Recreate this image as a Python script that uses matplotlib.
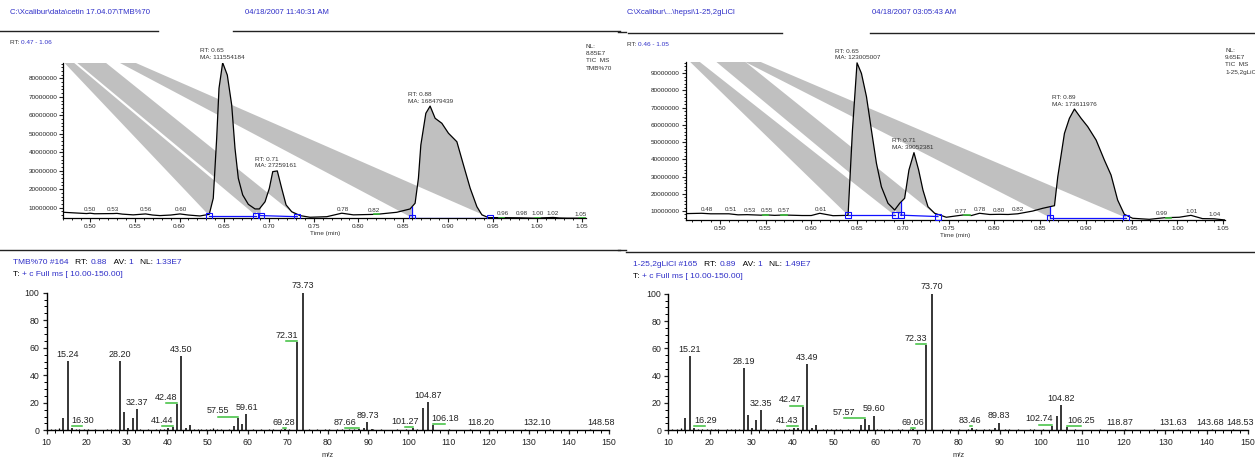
import numpy as np
import matplotlib
matplotlib.use('Agg')
import matplotlib.pyplot as plt
from matplotlib.patches import Polygon
from matplotlib.ticker import FixedLocator, MultipleLocator, FuncFormatter

plt.rcParams['font.family'] = ['Liberation Sans', 'DejaVu Sans']

# ------------------------------------------------------------------ data
# Chromatogram 1 (TMB%70) -- intensity in units of 1e7
chrom1_t = [0.470, 0.4736, 0.496, 0.500, 0.505, 0.5258, 0.530, 0.536, 0.5482, 0.562, 0.570,
            0.578, 0.590, 0.6004, 0.610, 0.6228, 0.6332, 0.6377, 0.6415, 0.6441, 0.6482,
            0.6534, 0.6583, 0.6620, 0.6657, 0.6706, 0.6769, 0.6844, 0.6892, 0.6956, 0.7004,
            0.7042, 0.7093, 0.7142, 0.7191, 0.7254, 0.7317, 0.7347, 0.7459, 0.7646, 0.7814,
            0.7944, 0.8206, 0.8429, 0.8578, 0.8634, 0.8671, 0.8698, 0.8754, 0.8802, 0.8858,
            0.8933, 0.9007, 0.9101, 0.9175, 0.9250, 0.9325, 0.9381, 0.9455, 0.9586, 0.980,
            0.9955, 1.0179, 1.025, 1.0332, 1.0545]
chrom1_i = [0.75, 0.74, 0.68, 0.70, 0.67, 0.68, 0.69, 0.65, 0.61, 0.66, 0.60,
            0.57, 0.60, 0.66, 0.60, 0.55, 0.64, 1.51, 4.75, 7.46, 8.85,
            8.18, 6.56, 4.21, 2.59, 1.69, 1.18, 0.93, 0.93, 1.32, 2.05,
            2.95, 2.99, 2.05, 1.15, 0.78, 0.64, 0.57, 0.48, 0.51, 0.70,
            0.61, 0.64, 0.75, 0.93, 1.24, 2.59, 4.39, 6.11, 6.50, 5.84,
            5.57, 5.03, 4.57, 3.31, 2.05, 1.05, 0.61, 0.46, 0.46, 0.45,
            0.43, 0.47, 0.44, 0.43, 0.43]
chrom1_peak_rt = ['0.65', '0.71', '0.88']
chrom1_peak_ma = ['111554184', '27259161', '168479439']
chrom1_marker_t = [0.6332, 0.6855, 0.6907, 0.7317, 0.8597, 0.9466]
chrom1_marker_i = [0.57, 0.57, 0.57, 0.51, 0.46, 0.46]
chrom1_small = ['0.50', '0.53', '0.56', '0.60', '0.78', '0.82', '0.96', '0.98', '1.00', '1.02', '1.05']
chrom1_green = [0.82, 0.96, 1.00, 1.05]

# Chromatogram 2 (1-25,2gLiCl)
chrom2_t = [0.462, 0.480, 0.490, 0.510, 0.520, 0.530, 0.545, 0.550, 0.560, 0.570, 0.590,
            0.600, 0.6093, 0.6238, 0.6402, 0.645, 0.650, 0.6548, 0.6603, 0.6657, 0.6712,
            0.6766, 0.6838, 0.6911, 0.6966, 0.702, 0.7067, 0.7122, 0.7173, 0.722, 0.7275,
            0.7348, 0.7475, 0.7656, 0.775, 0.7838, 0.795, 0.8057, 0.815, 0.8256, 0.842,
            0.8529, 0.8657, 0.8693, 0.8766, 0.882, 0.8875, 0.8948, 0.902, 0.9112, 0.9202,
            0.9275, 0.9347, 0.942, 0.9511, 0.9693, 0.9857, 1.002, 1.0148, 1.0274, 1.040, 1.052]
chrom2_i = [0.85, 0.87, 0.84, 0.84, 0.78, 0.79, 0.76, 0.78, 0.75, 0.77, 0.74,
            0.74, 0.87, 0.73, 0.75, 5.70, 9.60, 8.99, 7.64, 5.70, 3.77,
            2.41, 1.45, 1.06, 1.45, 1.74, 3.38, 4.39, 3.38, 2.22, 1.25,
            0.87, 0.64, 0.77, 0.74, 0.87, 0.80, 0.81, 0.80, 0.84, 1.00,
            1.16, 1.31, 2.99, 5.51, 6.38, 6.92, 6.38, 5.90, 5.12, 3.96,
            3.09, 1.64, 0.81, 0.58, 0.52, 0.61, 0.64, 0.75, 0.56, 0.55, 0.48]
chrom2_peak_rt = ['0.65', '0.71', '0.89']
chrom2_peak_ma = ['123005007', '39052381', '173611976']
chrom2_marker_t = [0.6402, 0.6911, 0.6977, 0.7384, 0.8613, 0.9439]
chrom2_marker_i = [0.75, 0.75, 0.76, 0.68, 0.61, 0.61]
chrom2_small = ['0.48', '0.51', '0.53', '0.55', '0.57', '0.61', '0.77', '0.78', '0.80', '0.82',
                '0.99', '1.01', '1.04']
chrom2_green = [0.55, 0.57, 0.77, 0.99]

# Mass spectrum 1 (TMB%70 #164)
spec1_mz = [14.0, 15.24, 16.30, 28.20, 29.3, 30.3, 31.4, 32.37, 40.3, 41.44, 42.48, 43.50,
            44.6, 45.6, 56.6, 57.55, 58.6, 59.61, 69.28, 72.31, 73.73, 87.66, 88.9, 89.73,
            90.9, 101.27, 103.7, 104.87, 106.18, 118.20, 132.10, 148.58]
spec1_int = [9.2, 50.4, 2.0, 50.4, 13.0, 2.0, 8.7, 15.3, 2.0, 2.5, 19.0, 54.0,
             2.0, 4.0, 3.0, 9.2, 4.6, 11.6, 1.0, 64.0, 100.0, 1.0, 2.0, 5.8,
             1.0, 1.5, 16.5, 20.5, 3.8, 0.5, 0.5, 0.5]
spec1_noise_mz = [11.0, 12.0, 13.1, 17.2, 18.1, 19.2, 20.2, 21.1, 22.1, 23.2, 25.1, 26.1, 27.1,
                  33.2, 34.2, 35.1, 36.2, 37.1, 38.2, 39.1, 46.6, 47.6, 48.5, 49.6, 50.6, 51.3,
                  52.4, 53.5, 54.4, 55.4, 61.3, 62.4, 63.4, 64.3, 65.4, 66.3, 67.3, 68.3, 70.3,
                  71.3, 75.2, 77.2, 78.4, 79.3, 80.4, 81.3, 82.3, 83.4, 84.3, 85.3, 86.4, 91.3,
                  92.3, 93.3, 95.4, 97.3, 99.4, 102.3, 107.3, 110.2, 112.3, 115.3, 117.3, 121.2,
                  127.2, 129.2, 133.3, 135.2, 144.2, 145.3, 146.3]
spec1_noise_i = [0.8, 1.0, 1.5, 0.8, 0.7, 0.6, 0.8, 0.5, 0.7, 0.5, 0.6, 0.9, 0.7,
                 0.6, 0.5, 0.7, 0.5, 0.6, 0.8, 0.6, 0.8, 0.6, 0.7, 0.9, 1.2, 1.5,
                 0.6, 0.7, 0.5, 0.6, 0.7, 0.5, 0.6, 0.5, 0.8, 0.6, 0.5, 0.7, 0.6,
                 0.5, 0.6, 0.7, 0.5, 0.6, 0.8, 0.5, 0.7, 0.6, 0.5, 0.6, 0.7, 0.6,
                 0.5, 0.7, 0.5, 0.6, 0.8, 0.6, 0.5, 0.6, 0.5, 0.6, 0.5, 0.6,
                 0.5, 0.6, 0.5, 0.6, 0.5, 0.6, 0.5]
spec1_labels = ['15.24', '16.30', '28.20', '32.37', '41.44', '42.48', '43.50', '57.55', '59.61',
                '69.28', '72.31', '73.73', '87.66', '89.73', '101.27', '104.87', '106.18',
                '118.20', '132.10', '148.58']

# Mass spectrum 2 (1-25,2gLiCl #165)
spec2_mz = [14.0, 15.21, 16.29, 28.19, 29.3, 30.2, 31.3, 32.35, 40.4, 41.43, 42.47, 43.49,
            44.6, 45.6, 56.5, 57.57, 58.5, 59.60, 69.06, 72.33, 73.70, 83.46, 88.9, 89.83,
            102.74, 103.9, 104.82, 106.25, 118.87, 131.63, 143.68, 148.53]
spec2_int = [9.0, 54.4, 2.0, 45.4, 11.5, 2.0, 7.6, 14.6, 2.0, 2.0, 17.3, 48.5,
             1.5, 3.6, 3.6, 8.3, 4.0, 10.7, 1.0, 62.4, 100.0, 2.0, 2.0, 5.6,
             3.4, 10.7, 18.5, 2.6, 0.5, 0.5, 0.5, 0.5]
spec2_noise_mz = [11.0, 12.1, 13.1, 17.2, 18.1, 19.3, 20.2, 21.2, 22.1, 23.3, 24.2, 25.2, 26.1,
                  27.1, 33.3, 34.2, 35.2, 36.3, 37.2, 38.2, 39.2, 47.3, 48.4, 49.4, 50.5, 51.4,
                  53.5, 54.5, 60.4, 61.4, 62.5, 63.4, 64.3, 65.4, 66.4, 67.4, 68.3, 76.3, 78.3,
                  79.4, 80.3, 81.4, 82.3, 84.4, 85.3, 86.3, 87.4, 91.3, 92.4, 93.3, 94.4, 96.3,
                  97.4, 98.3, 99.3, 100.4, 101.3, 108.3, 112.3, 114.3, 116.2, 120.3, 124.3,
                  127.3, 130.3, 133.2, 137.3, 141.3, 145.2, 146.3, 147.3]
spec2_noise_i = [0.8, 0.9, 1.6, 0.7, 0.7, 0.6, 0.8, 0.6, 0.7, 0.5, 0.6, 0.6, 0.8,
                 0.7, 0.6, 0.5, 0.6, 0.6, 0.5, 0.7, 0.6, 0.6, 0.8, 0.6, 0.7, 0.9,
                 0.6, 0.7, 0.6, 0.7, 0.5, 0.6, 0.5, 0.7, 0.6, 0.5, 0.8, 0.7, 0.6,
                 0.5, 0.6, 0.5, 0.7, 0.6, 0.5, 0.6, 0.8, 0.6, 0.7, 0.5, 0.6, 0.5,
                 0.6, 0.7, 0.5, 0.6, 0.5, 0.6, 0.5, 0.6, 0.5, 0.6, 0.5,
                 0.6, 0.5, 0.6, 0.5, 0.6, 0.5, 0.6, 0.5]
spec2_labels = ['15.21', '16.29', '28.19', '32.35', '41.43', '42.47', '43.49', '57.57', '59.60',
                '69.06', '72.33', '73.70', '83.46', '89.83', '102.74', '104.82', '106.25',
                '118.87', '131.63', '143.68', '148.53']

# ------------------------------------------------------------------ layout / style
W, H = 1255, 457
BLUE = '#2f2fc8'
GRAY = '#c0c0c0'
GREEN = '#3cbf3c'
MBLUE = '#1010ff'

# horizontal placement of the small retention-time labels (time units)
chrom1_small_x = [0.500, 0.5252, 0.562, 0.602, 0.7826, 0.8175, 0.961, 0.9826, 1.0004, 1.0175, 1.048]
chrom2_small_x = [0.486, 0.5117, 0.5325, 0.551, 0.570, 0.610, 0.7639, 0.7838, 0.8048, 0.8256,
                  0.9826, 1.0155, 1.0409]

# where each spectrum label sits (m/z of the label centre) and its green leader type
spec1_label_x = [15.24, 18.9, 28.2, 32.37, 38.6, 39.8, 43.5, 52.6, 59.8, 69.1, 69.7, 73.73,
                 84.2, 89.9, 99.2, 104.87, 109.2, 118.0, 132.0, 148.1]
spec1_label_green = [0, 1, 0, 0, 1, 1, 0, 1, 0, 2, 1, 0, 1, 0, 1, 0, 1, 0, 0, 0]
spec2_label_x = [15.21, 18.9, 28.19, 32.3, 38.6, 39.4, 43.49, 52.5, 59.6, 69.06, 69.7, 73.7,
                 82.9, 89.83, 99.6, 104.82, 109.7, 119.1, 131.9, 140.8, 148.1]
spec2_label_green = [0, 1, 0, 0, 1, 1, 0, 1, 0, 2, 1, 0, 1, 0, 1, 0, 1, 0, 0, 0, 0]

# off-axis start vertices of the filled peak paths (source of the grey streaks)
chrom1_apex = [(0.4292, 10.99), (-0.4315, 45.79), (0.4494, 10.99)]
chrom2_apex = [(0.4228, 11.97), (-0.3932, 48.94), (0.4424, 11.97)]

fig = plt.figure(figsize=(W / 100, H / 100), dpi=100)
fig.patch.set_facecolor('white')

bg = fig.add_axes([0, 0, 1, 1])
bg.set_xlim(0, W)
bg.set_ylim(H, 0)
bg.axis('off')


def px_axes(x0, y0, x1, y1):
    return fig.add_axes([x0 / W, 1 - y1 / H, (x1 - x0) / W, (y1 - y0) / H])


def chain_text(x, y, parts, size):
    t = bg.text(x, y, parts[0][0], color=parts[0][1], fontsize=size, ha='left', va='center')
    for s, c in parts[1:]:
        t = bg.annotate(s, xy=(1, 0), xycoords=t, xytext=(0, 0), textcoords='offset points',
                        ha='left', va='bottom', color=c, fontsize=size)
    return t


# header texts / rules
bg.text(10, 13, r'C:\Xcalibur\data\cetin 17.04.07\TMB%70', color=BLUE, fontsize=5.6, va='center')
bg.text(245, 13, '04/18/2007 11:40:31 AM', color=BLUE, fontsize=5.6, va='center')
bg.text(627, 13, r'C:\Xcalibur\...\hepsi\1-25,2gLiCl', color=BLUE, fontsize=5.6, va='center')
bg.text(872, 13, '04/18/2007 03:05:43 AM', color=BLUE, fontsize=5.6, va='center')
rule_kw = dict(color='#222222', lw=1.0)
bg.plot([0, 158], [31, 31], **rule_kw)
bg.plot([233, 620], [31, 31], **rule_kw)
bg.plot([618, 626], [32, 32], **rule_kw)
bg.plot([628, 782], [33, 33], **rule_kw)
bg.plot([870, 1255], [33, 33], **rule_kw)
bg.plot([0, 620], [250, 250], **rule_kw)
bg.plot([618, 626], [250, 250], **rule_kw)
bg.plot([626, 1255], [252, 252], **rule_kw)

chain_text(10, 42, [('RT: ', '#333333'), ('0.47 - 1.06', BLUE)], 4.6)
chain_text(627, 44, [('RT: ', '#333333'), ('0.46 - 1.05', BLUE)], 4.6)

chain_text(13, 263, [('TMB%70 #164', BLUE), ('   RT: ', 'k'), ('0.88', BLUE), ('   AV: ', 'k'),
                     ('1', BLUE), ('   NL: ', 'k'), ('1.33E7', BLUE)], 6.0)
chain_text(13, 275, [('T: ', 'k'), ('+ c Full ms [ 10.00-150.00]', BLUE)], 6.0)
chain_text(633, 265, [('1-25,2gLiCl #165', BLUE), ('   RT: ', 'k'), ('0.89', BLUE), ('   AV: ', 'k'),
                      ('1', BLUE), ('   NL: ', 'k'), ('1.49E7', BLUE)], 6.0)
chain_text(633, 277, [('T: ', 'k'), ('+ c Full ms [ 10.00-150.00]', BLUE)], 6.0)

bg.text(586, 44, 'NL:\n8.85E7\nTIC  MS\nTMB%70', fontsize=4.6, va='top', ha='left',
        linespacing=1.55, color='#333333')
bg.text(1225, 48, 'NL:\n9.65E7\nTIC  MS\n1-25,2gLiCl', fontsize=4.6, va='top', ha='left',
        linespacing=1.55, color='#333333')


def draw_chrom(ax, t, inten, xlim, ylim, ymax_tick, rts, mas, mt, mi, apexes, small, small_x,
               green, vert_idx):
    t = np.asarray(t)
    v = np.asarray(inten)
    ax.set_xlim(*xlim)
    ax.set_ylim(ylim[0] * 1e7, ylim[1] * 1e7)
    # peaks (fill paths)
    peaks_max = []
    for k in range(3):
        t0, t1 = mt[2 * k], mt[2 * k + 1]
        b0, b1 = mi[2 * k], mi[2 * k + 1]
        m = (t > t0) & (t < t1)
        xs = [apexes[k][0], t0, t0] + list(t[m]) + [t1, t1]
        ys = [apexes[k][1], b0, np.interp(t0, t, v)] + list(v[m]) + [np.interp(t1, t, v), b1]
        poly = Polygon(np.column_stack([xs, np.array(ys) * 1e7]), closed=True,
                       facecolor=GRAY, edgecolor='none', zorder=1)
        ax.add_patch(poly)
        j = np.argmax(np.where(m, v, -1))
        peaks_max.append((t[j], v[j]))
    ax.plot(t, v * 1e7, color='black', lw=0.9, zorder=3)
    # integration baselines
    for k in range(3):
        ax.plot([mt[2 * k], mt[2 * k + 1]], [mi[2 * k] * 1e7, mi[2 * k + 1] * 1e7],
                color=MBLUE, lw=0.9, zorder=4)
    for k in vert_idx:
        ax.plot([mt[k], mt[k]], [mi[k] * 1e7, np.interp(mt[k], t, v) * 1e7], color=MBLUE,
                lw=0.9, zorder=4)
    ax.plot(mt, np.array(mi) * 1e7, ls='none', marker='s', ms=4.2, mfc='none', mec=MBLUE,
            mew=0.8, zorder=5)
    # peak labels
    for (pt, pv), rt, ma in zip(peaks_max, rts, mas):
        ax.annotate(f'RT: {rt}\nMA: {ma}', xy=(pt, pv * 1e7), xytext=(-16, 1.8),
                    textcoords='offset points', ha='left', va='bottom', fontsize=4.6,
                    linespacing=1.45, color='#333333', annotation_clip=False, zorder=6)
    for s, x in zip(small, small_x):
        y = np.interp(x, t, v) * 1e7
        ax.annotate(s, xy=(x, y), xytext=(0, 1.2), textcoords='offset points', ha='center',
                    va='bottom', fontsize=4.5, color='#333333', zorder=6)
    for g in green:
        y = np.interp(g, t, v) * 1e7
        ax.plot([g - 0.003, g + 0.003], [y, y], color=GREEN, lw=1.2, zorder=5)
    # axes styling
    for s in ('top', 'right'):
        ax.spines[s].set_visible(False)
    for s in ('left', 'bottom'):
        ax.spines[s].set_linewidth(0.9)
    ax.xaxis.set_major_locator(MultipleLocator(0.05))
    ax.xaxis.set_minor_locator(MultipleLocator(0.01))
    ax.xaxis.set_major_formatter(FuncFormatter(lambda x, p: f'{x:.2f}'))
    ax.yaxis.set_major_locator(FixedLocator([k * 1e7 for k in range(1, ymax_tick + 1)]))
    ax.yaxis.set_minor_locator(MultipleLocator(2e6))
    ax.yaxis.set_major_formatter(FuncFormatter(lambda y, p: f'{int(round(y))}'))
    ax.tick_params(which='major', direction='out', length=2.6, width=0.8, labelsize=4.6,
                   pad=1.5, colors='#222222')
    ax.tick_params(which='minor', direction='out', length=1.6, width=0.6)
    ax.set_xlabel('Time (min)', fontsize=4.6, labelpad=1.5, color='#333333')
    ax.patch.set_alpha(0)


axc1 = px_axes(63.3, 62.7, 586, 218)
draw_chrom(axc1, chrom1_t, chrom1_i, (0.47, 1.0545), (0.44, 8.85), 8, chrom1_peak_rt,
           chrom1_peak_ma, chrom1_marker_t, chrom1_marker_i, chrom1_apex, chrom1_small,
           chrom1_small_x, chrom1_green, [4])

axc2 = px_axes(685.5, 62, 1225, 220)
draw_chrom(axc2, chrom2_t, chrom2_i, (0.4626, 1.052), (0.48, 9.65), 9, chrom2_peak_rt,
           chrom2_peak_ma, chrom2_marker_t, chrom2_marker_i, chrom2_apex, chrom2_small,
           chrom2_small_x, chrom2_green, [2, 4])


def draw_spec(ax, mz, inten, nmz, ni, labels, lx, lg):
    ax.set_xlim(10, 150)
    ax.set_ylim(0, 100)
    ax.vlines(nmz, 0, ni, color='black', lw=0.9)
    ax.vlines(mz, 0, inten, color='black', lw=1.1)
    for s, x, g in zip(labels, lx, lg):
        bm = float(s)
        h = inten[int(np.argmin(np.abs(np.array(mz) - bm)))]
        if g == 1:
            ax.plot([x, bm], [h + 0.8, h + 0.8], color=GREEN, lw=1.1, clip_on=False)
        elif g == 2:
            ax.plot([bm - 0.4, bm + 0.4], [h + 0.8, h + 0.8], color=GREEN, lw=1.1, clip_on=False)
        ax.annotate(s, xy=(x, h + 0.8), xytext=(0, 0.8), textcoords='offset points', ha='center',
                    va='bottom', fontsize=6.5, color='#222222', annotation_clip=False)
    for s in ('top', 'right'):
        ax.spines[s].set_visible(False)
    for s in ('left', 'bottom'):
        ax.spines[s].set_linewidth(1.0)
    ax.xaxis.set_major_locator(MultipleLocator(10))
    ax.xaxis.set_minor_locator(MultipleLocator(2))
    ax.yaxis.set_major_locator(MultipleLocator(20))
    ax.yaxis.set_minor_locator(MultipleLocator(5))
    ax.tick_params(which='major', direction='out', length=3.2, width=0.9, labelsize=6.3, pad=2,
                   colors='#222222')
    ax.tick_params(which='minor', direction='out', length=2.0, width=0.7)
    ax.set_xlabel('m/z', fontsize=5.5, labelpad=4, color='#333333')
    ax.patch.set_alpha(0)


axs1 = px_axes(46.7, 292.7, 609, 430.3)
draw_spec(axs1, spec1_mz, spec1_int, spec1_noise_mz, spec1_noise_i, spec1_labels,
          spec1_label_x, spec1_label_green)
axs2 = px_axes(668.3, 293.7, 1248, 430.3)
draw_spec(axs2, spec2_mz, spec2_int, spec2_noise_mz, spec2_noise_i, spec2_labels,
          spec2_label_x, spec2_label_green)

fig.savefig('out.png', dpi=100)
